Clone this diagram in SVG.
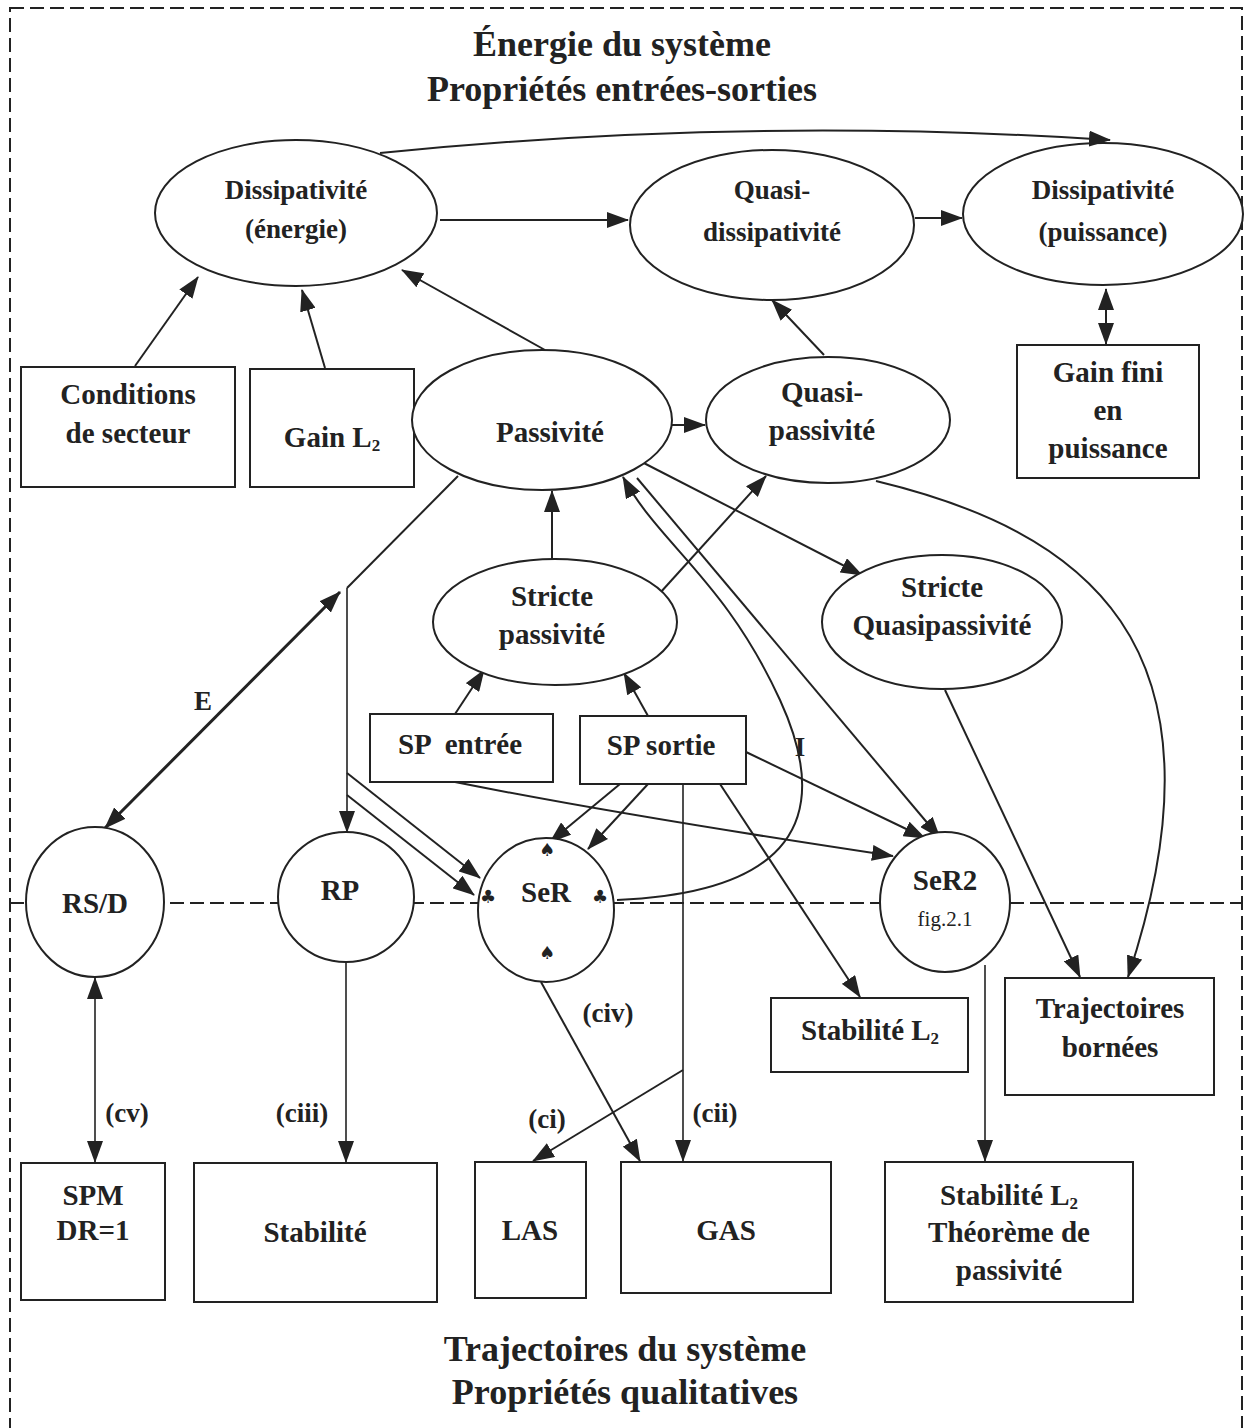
<svg xmlns="http://www.w3.org/2000/svg" width="1246" height="1428" viewBox="0 0 1246 1428">
<style>
text{font-family:"Liberation Serif","Times New Roman",serif;font-weight:bold;fill:#222;text-anchor:middle}
.t{font-size:36px}
.top{font-size:27px}
.n{font-size:29px}
.lbl{font-size:27px}
.sym{font-family:"DejaVu Sans",sans-serif;font-weight:normal;font-size:18px}
.sh{fill:#fff;stroke:#222;stroke-width:2}
.c{fill:none;stroke:#222;stroke-width:2}
.c2{fill:none;stroke:#222;stroke-width:1.6}
.bold{fill:none;stroke:#222;stroke-width:3}
.dash{fill:none;stroke:#222;stroke-width:2;stroke-dasharray:14 6}
</style>
<defs>
<marker id="a" markerUnits="userSpaceOnUse" markerWidth="22" markerHeight="16" refX="21" refY="8" orient="auto-start-reverse" viewBox="0 0 22 16">
<path d="M0,0 L22,8 L0,16 z" fill="#222"/>
</marker>
</defs>
<rect x="10" y="8" width="1232" height="1440" class="dash"/>
<line x1="10" y1="903" x2="1242" y2="903" class="dash"/>
<g id="connectors">
<path class="c" d="M440 220 L628 220" marker-end="url(#a)"/>
<path class="c" d="M915 218 L962 218" marker-end="url(#a)"/>
<path class="c" d="M1106 289 L1106 344" marker-start="url(#a)" marker-end="url(#a)"/>
<path class="c" d="M135 366 L198 277" marker-end="url(#a)"/>
<path class="c" d="M325 368 L302 290" marker-end="url(#a)"/>
<path class="c" d="M545 350 L402 270" marker-end="url(#a)"/>
<path class="c" d="M672 425 L705 425" marker-end="url(#a)"/>
<path class="c" d="M824 355 L772 300" marker-end="url(#a)"/>
<path class="c" d="M552 560 L552 491" marker-end="url(#a)"/>
<path class="c" d="M660 593 L766 476" marker-end="url(#a)"/>
<path class="c" d="M636 459 L862 575" marker-end="url(#a)"/>
<path class="c" d="M876 481 C1080 530 1240 640 1128 977" marker-end="url(#a)"/>
<path class="c" d="M945 690 L1080 977" marker-end="url(#a)"/>
<path class="c" d="M455 714 L484 670" marker-end="url(#a)"/>
<path class="c" d="M648 716 L624 673" marker-end="url(#a)"/>
<path class="bold" d="M105 828 L340 592" marker-start="url(#a)" marker-end="url(#a)"/>
<path class="c" d="M458 476 L347 588"/>
<path class="c2" d="M347 588 L347 832" marker-end="url(#a)"/>
<path class="c" d="M347 773 L480 878" marker-end="url(#a)"/>
<path class="c" d="M347 795 L474 895" marker-end="url(#a)"/>
<path class="c" d="M620 784 L550 842" marker-end="url(#a)"/>
<path class="c" d="M648 784 L588 849" marker-end="url(#a)"/>
<path class="c" d="M746 752 L925 838" marker-end="url(#a)"/>
<path class="c" d="M455 782 Q620 815 893 856" marker-end="url(#a)"/>
<path class="c" d="M637 478 L940 838" marker-end="url(#a)"/>
<path class="c" d="M617 900 C790 893 835 820 780 700 S660 545 623 477" marker-end="url(#a)"/>
<path class="c2" d="M683 784 L683 1161" marker-end="url(#a)"/>
<path class="c" d="M683 1070 L533 1161" marker-end="url(#a)"/>
<path class="c" d="M720 784 L860 997" marker-end="url(#a)"/>
<path class="c" d="M541 982 L640 1161" marker-end="url(#a)"/>
<path class="c2" d="M95 978 L95 1162" marker-start="url(#a)" marker-end="url(#a)"/>
<path class="c2" d="M346 962 L346 1162" marker-end="url(#a)"/>
<path class="c2" d="M985 965 L985 1161" marker-end="url(#a)"/>
</g>
<text class="t" x="622" y="56">Énergie du système</text>
<text class="t" x="622" y="101">Propriétés entrées-sorties</text>
<text class="t" x="625" y="1361">Trajectoires du système</text>
<text class="t" x="625" y="1404">Propriétés qualitatives</text>
<g id="diss-energie"><ellipse class="sh" cx="296" cy="213" rx="141" ry="73"/><text class="top" x="296" y="199">Dissipativité</text><text class="top" x="296" y="238">(énergie)</text></g>
<g id="quasi-diss"><ellipse class="sh" cx="772" cy="225" rx="142" ry="75"/><text class="top" x="772" y="199">Quasi-</text><text class="top" x="772" y="241">dissipativité</text></g>
<g id="diss-puissance"><ellipse class="sh" cx="1103" cy="214" rx="140" ry="71"/><text class="top" x="1103" y="199">Dissipativité</text><text class="top" x="1103" y="241">(puissance)</text></g>
<g id="connector-top"><path class="c" d="M380 153 Q745 116 1110 140" marker-end="url(#a)"/></g>
<g id="gain-fini"><rect class="sh" x="1017" y="345" width="182" height="133"/><text class="n" x="1108" y="382">Gain fini</text><text class="n" x="1108" y="420">en</text><text class="n" x="1108" y="458">puissance</text></g>
<g id="conditions"><rect class="sh" x="21" y="367" width="214" height="120"/><text class="n" x="128" y="404">Conditions</text><text class="n" x="128" y="443">de secteur</text></g>
<g id="gain-l2"><rect class="sh" x="250" y="369" width="164" height="118"/><text class="n" x="332" y="447">Gain L<tspan font-size="17" dy="4">2</tspan></text></g>
<g id="passivite"><ellipse class="sh" cx="542" cy="420" rx="130" ry="70"/><text class="n" x="550" y="442">Passivité</text></g>
<g id="quasi-passivite"><ellipse class="sh" cx="828" cy="420" rx="122" ry="63"/><text class="n" x="822" y="402">Quasi-</text><text class="n" x="822" y="440">passivité</text></g>
<g id="stricte-passivite"><ellipse class="sh" cx="555" cy="622" rx="122" ry="63"/><text class="n" x="552" y="606">Stricte</text><text class="n" x="552" y="644">passivité</text></g>
<g id="stricte-quasi"><ellipse class="sh" cx="942" cy="622" rx="120" ry="67"/><text class="n" x="942" y="597">Stricte</text><text class="n" x="942" y="635">Quasipassivité</text></g>
<g id="sp-entree"><rect class="sh" x="370" y="714" width="183" height="68"/><text class="n" x="460" y="754" xml:space="preserve">SP  entrée</text></g>
<g id="sp-sortie"><rect class="sh" x="580" y="716" width="166" height="68"/><text class="n" x="661" y="755">SP sortie</text></g>
<text class="lbl" x="203" y="710">E</text>
<text class="lbl" x="800" y="756">I</text>
<g id="rsd"><ellipse class="sh" cx="95" cy="902" rx="69" ry="75"/><text class="n" x="95" y="913">RS/D</text></g>
<g id="rp"><ellipse class="sh" cx="346" cy="897" rx="68" ry="65"/><text class="n" x="340" y="900">RP</text></g>
<g id="ser"><ellipse class="sh" cx="546" cy="910" rx="68" ry="72"/><text class="n" x="546" y="902">SeR</text><text class="sym" x="488" y="903">♣</text><text class="sym" x="600" y="903">♣</text><text class="sym" x="547" y="959">♠</text><text class="sym" x="547" y="856">♠</text></g>
<g id="ser2"><ellipse class="sh" cx="945" cy="902" rx="65" ry="70"/><text class="n" x="945" y="890">SeR2</text><text x="945" y="926" style="font-weight:normal;font-size:21px">fig.2.1</text></g>
<g id="stab-l2"><rect class="sh" x="771" y="998" width="197" height="74"/><text class="n" x="870" y="1040">Stabilité L<tspan font-size="17" dy="4">2</tspan></text></g>
<g id="traj-bornees"><rect class="sh" x="1005" y="978" width="209" height="117"/><text class="n" x="1110" y="1018">Trajectoires</text><text class="n" x="1110" y="1057">bornées</text></g>
<text class="lbl" x="608" y="1022">(civ)</text>
<text class="lbl" x="127" y="1122">(cv)</text>
<text class="lbl" x="302" y="1122">(ciii)</text>
<text class="lbl" x="547" y="1128">(ci)</text>
<text class="lbl" x="715" y="1122">(cii)</text>
<g id="spm"><rect class="sh" x="21" y="1163" width="144" height="137"/><text class="n" x="93" y="1205">SPM</text><text class="n" x="93" y="1240">DR=1</text></g>
<g id="stabilite"><rect class="sh" x="194" y="1163" width="243" height="139"/><text class="n" x="315" y="1242">Stabilité</text></g>
<g id="las"><rect class="sh" x="475" y="1162" width="111" height="136"/><text class="n" x="530" y="1240">LAS</text></g>
<g id="gas"><rect class="sh" x="621" y="1162" width="210" height="131"/><text class="n" x="726" y="1240">GAS</text></g>
<g id="stab-theoreme"><rect class="sh" x="885" y="1162" width="248" height="140"/><text class="n" x="1009" y="1205">Stabilité L<tspan font-size="17" dy="4">2</tspan></text><text class="n" x="1009" y="1242">Théorème de</text><text class="n" x="1009" y="1280">passivité</text></g>
</svg>
